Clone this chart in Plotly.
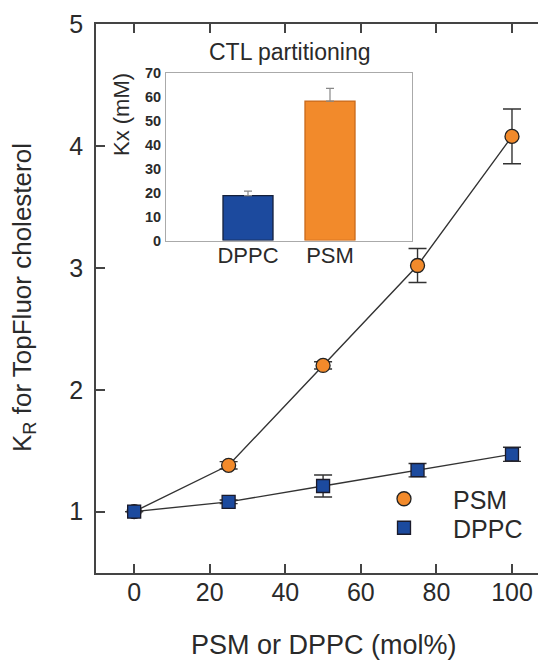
import plotly.graph_objects as go

W, H = 546, 662

# ---- data ----
mol = [0, 25, 50, 75, 100]
psm_kr = [1.0, 1.38, 2.2, 3.02, 4.08]
psm_err = [0.0, 0.03, 0.03, 0.14, 0.225]
dppc_kr = [1.0, 1.08, 1.21, 1.34, 1.47]
dppc_err = [0.0, 0.015, 0.09, 0.055, 0.058]

inset_cats = ["DPPC", "PSM"]
inset_kx = [18.7, 58.1]
inset_err = [1.9, 5.3]

x_ticks = [0, 20, 40, 60, 80, 100]
y_ticks = [1, 2, 3, 4, 5]
inset_y_ticks = [0, 10, 20, 30, 40, 50, 60, 70]

ORANGE = "#F28A2B"
BLUE = "#1C4A9E"
AX = "#444444"
TXT = "#2a2a2a"
FONT = "Liberation Sans, Arial, sans-serif"

OFF = 8  # page body margin offset


def px(x):
    return (x - OFF) / W


def py(y):
    return 1 - (y - OFF) / H


fig = go.Figure()

# connecting lines
fig.add_trace(go.Scatter(x=mol, y=psm_kr, mode="lines", line=dict(color="#333333", width=1.4),
                         showlegend=False, hoverinfo="skip"))
fig.add_trace(go.Scatter(x=mol, y=dppc_kr, mode="lines", line=dict(color="#333333", width=1.4),
                         showlegend=False, hoverinfo="skip"))
# markers with error bars
fig.add_trace(go.Scatter(
    x=mol, y=psm_kr, mode="markers", name="PSM", legend="legend",
    marker=dict(symbol="circle", size=14, color=ORANGE, line=dict(color="#222222", width=1.3)),
    error_y=dict(type="data", array=psm_err, color="#333333", thickness=1.4, width=9),
))
fig.add_trace(go.Scatter(
    x=mol, y=dppc_kr, mode="markers", name="DPPC", legend="legend2",
    marker=dict(symbol="square", size=13, color=BLUE, line=dict(color="#1a1a2a", width=1.3)),
    error_y=dict(type="data", array=dppc_err, color="#333333", thickness=1.4, width=9),
))

# inset bars
fig.add_trace(go.Bar(
    x=inset_cats, y=inset_kx, xaxis="x2", yaxis="y2", width=0.61, showlegend=False,
    marker=dict(color=[BLUE, ORANGE], line=dict(color=["#15203a", "#c8691c"], width=1.3)),
    error_y=dict(type="data", array=inset_err, arrayminus=[0, 0], symmetric=False,
                 color="#888888", thickness=1.2, width=4),
))

fig.update_layout(
    width=W, height=H,
    margin=dict(l=0, r=0, t=0, b=0, pad=0, autoexpand=False),
    paper_bgcolor="white", plot_bgcolor="white",
    font=dict(family=FONT, color=TXT),
    xaxis=dict(
        domain=[px(96), px(550)], range=[-10.1, 110.06],
        tickvals=x_ticks, ticks="inside", ticklen=9, tickwidth=1.5, tickcolor=AX,
        showline=True, linecolor=AX, linewidth=1.5, mirror="ticks",
        showgrid=False, zeroline=False, tickfont=dict(size=25, color=TXT),
        ticklabelstandoff=-3, automargin=False,
    ),
    yaxis=dict(
        domain=[py(572.5), py(24.3)], range=[0.5, 5],
        tickvals=y_ticks, ticks="inside", ticklen=9, tickwidth=1.5, tickcolor=AX,
        showline=True, linecolor=AX, linewidth=1.5,
        showgrid=False, zeroline=False, tickfont=dict(size=25, color=TXT),
        ticklabelstandoff=6, automargin=False,
    ),
    yaxis3=dict(
        overlaying="y", side="right", anchor="x", range=[0.5, 5],
        tickvals=y_ticks, ticks="inside", ticklen=9, tickwidth=1.5, tickcolor=AX,
        showline=False, showgrid=False, zeroline=False, showticklabels=False, automargin=False,
    ),
    xaxis2=dict(
        domain=[px(166), px(412)], anchor="y2", range=[-1, 2],
        showline=True, linecolor="#aaaaaa", linewidth=1, mirror=True,
        ticks="", showgrid=False, zeroline=False,
        tickfont=dict(size=22, color=TXT), ticklabelstandoff=-5, automargin=False,
    ),
    yaxis2=dict(
        domain=[py(240.5), py(72.5)], anchor="x2", range=[0, 70],
        tickvals=inset_y_ticks, showline=True, linecolor="#aaaaaa", linewidth=1, mirror=True,
        ticks="", showgrid=False, zeroline=False,
        tickfont=dict(size=14.5, color=TXT, weight="bold"), ticklabelstandoff=1, automargin=False,
    ),
    legend=dict(x=px(355), y=py(499), xanchor="left", yanchor="middle",
                bgcolor="rgba(0,0,0,0)", font=dict(size=25, color=TXT), itemwidth=88),
    legend2=dict(x=px(355), y=py(528), xanchor="left", yanchor="middle",
                 bgcolor="rgba(0,0,0,0)", font=dict(size=25, color=TXT), itemwidth=88),
    annotations=[
        dict(text="PSM or DPPC (mol%)", x=px(324), y=py(645), xref="paper", yref="paper",
             showarrow=False, xanchor="center", yanchor="middle", font=dict(size=27, color=TXT)),
        dict(text="K<sub>R</sub> for TopFluor cholesterol", x=px(23), y=py(298), xref="paper", yref="paper",
             showarrow=False, xanchor="center", yanchor="middle", textangle=-90,
             font=dict(size=26, color=TXT)),
        dict(text="CTL partitioning", x=px(290), y=py(52), xref="paper", yref="paper",
             showarrow=False, xanchor="center", yanchor="middle", font=dict(size=23, color=TXT)),
        dict(text="Kx (mM)", x=px(122), y=py(115), xref="paper", yref="paper",
             showarrow=False, xanchor="center", yanchor="middle", textangle=-90,
             font=dict(size=22, color=TXT)),
    ],
)

fig.write_html("out.html")
